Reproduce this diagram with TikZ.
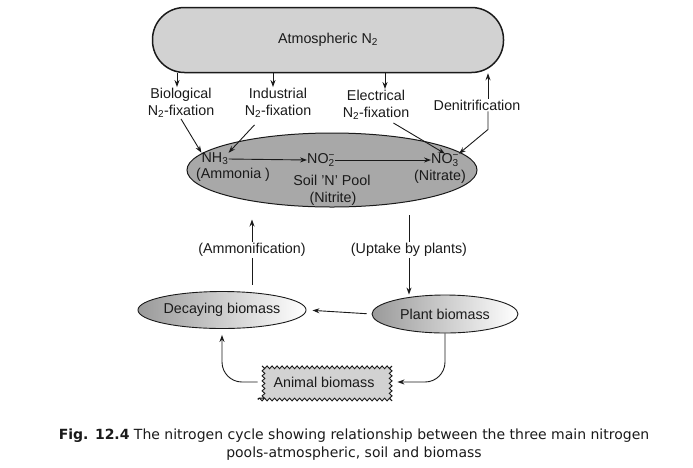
\documentclass[tikz,border=0pt]{standalone}
\usepackage{fontspec}
\setmainfont{Liberation Sans}
\newfontfamily\capfont{DejaVu Sans}
\usetikzlibrary{arrows.meta,positioning,calc,shapes.geometric,decorations.pathmorphing}
\definecolor{ink}  {HTML}{1A1A1A}
\definecolor{cloud}{HTML}{D2D2D2}
\definecolor{soil} {HTML}{A8A8A8}
\definecolor{shade}{HTML}{9A9A9A}

\tikzset{
  lbl/.style={font=\fontsize{14.3}{17}\selectfont, align=center, inner sep=1pt, text=ink},
  inlbl/.style={lbl, inner sep=0pt},
  flow/.style={-{Stealth[length=7pt,width=5pt]}, line width=0.9pt, draw=ink},
  link/.style={line width=0.9pt, draw=ink},
  bioblob/.style={ellipse, draw=ink, line width=0.9pt, left color=shade, right color=white, inner sep=0pt, lbl},
  animalbox/.style={draw=ink, line width=0.9pt, fill=cloud, minimum width=132pt, minimum height=35pt,
                    decorate, decoration={snake, amplitude=1.4pt, segment length=5pt}, lbl},
}

\begin{document}
\begin{tikzpicture}[x=1pt,y=-1pt]
  \useasboundingbox (0,0) rectangle (693,467);
  % atmospheric pool
  \node[draw=ink, line width=1.5pt, fill=cloud, rounded corners=32pt,
        minimum width=351pt, minimum height=65pt, lbl] (atmos) at (328,40) {Atmospheric N\textsubscript{2}};
  % fixation routes
  \node[lbl] (bio)   at (181,103) {Biological\\N\textsubscript{2}-fixation};
  \node[lbl] (ind)   at (278,103) {Industrial\\N\textsubscript{2}-fixation};
  \node[lbl] (elec)  at (376,105) {Electrical\\N\textsubscript{2}-fixation};
  \node[lbl] (denit) at (477,105) {Denitrification};
  \coordinate (bioin)   at ([xshift=-4pt]bio.north);
  \coordinate (indin)   at ([xshift=-5pt]ind.north);
  \coordinate (elecin)  at ([xshift=9pt]elec.north);
  \coordinate (denitup) at ([xshift=11pt]denit.north);
  \coordinate (denitdn) at ([xshift=11pt]denit.south);
  % soil pool
  \node[ellipse, draw=ink, line width=1pt, fill=soil, minimum width=290pt, minimum height=74pt,
        inner sep=0pt] (soil) at (332,170) {};
  \node[inlbl] (nh3)     at (215,159) {NH\textsubscript{3}};
  \node[inlbl] (ammonia) at (233,175) {(Ammonia )};
  \node[inlbl] (no2)     at (321,160) {NO\rlap{\textsuperscript{−}}\textsubscript{2}};
  \node[inlbl] (npool)   at (332,180) {Soil 'N' Pool};
  \node[inlbl] (nitrite) at (333,199) {(Nitrite)};
  \node[inlbl] (no3)     at (445,160) {NO\rlap{\textsuperscript{−}}\textsubscript{3}};
  \node[inlbl] (nitrate) at (440,177) {(Nitrate)};
  % biomass pools
  \node[lbl] (ammon)  at (252,250) {(Ammonification)};
  \node[lbl] (uptake) at (409,250) {(Uptake by plants)};
  \node[bioblob, minimum width=159pt, minimum height=37pt] (decay) at (222,310) {Decaying biomass};
  \node[bioblob, minimum width=146pt, minimum height=38pt] (plant) at (445,314) {Plant biomass};
  \node[animalbox] (animal) at (324,382) {Animal biomass};

  % connectors
  \draw[flow] (atmos.south -| bioin) -- (bioin);
  \draw[flow] (atmos.south -| indin) -- (indin);
  \draw[flow] (atmos.south -| elecin) -- (elecin);
  \draw[flow] (denitup) -- (atmos.south -| denitup);
  \draw[flow] (bio.south) -- (nh3.north west);
  \draw[flow, shorten <=8pt] ([xshift=-18pt]ind.south) -- (nh3.north east);
  \draw[flow, shorten <=4pt] ([xshift=14pt]elec.south) -- (no3.north);
  \draw[flow] (denitdn) -- ++(0,18) -- (no3.north east);
  \draw[flow] (nh3.east) -- (no2.west);
  \draw[flow] (no2.east) -- (no3.west);
  \draw[flow, shorten >=12pt] (ammon.north) -- (ammon.north |- soil.south);
  \draw[link, shorten >=6pt] (ammon.south) -- (ammon.south |- decay.north);
  \draw[link, shorten >=7pt] (uptake.north) -- (uptake.north |- soil.south);
  \draw[flow] (uptake.south) -- (uptake.south |- plant.north);
  \draw[flow, shorten <=5pt, shorten >=6pt] (plant.west) -- (decay.east);
  \draw[flow, rounded corners=20pt, shorten >=7pt] (plant.south) |- (animal.east);
  \draw[flow, rounded corners=20pt, shorten >=6pt] (animal.west) -| (decay.south);

  % caption
  \node[font=\capfont\fontsize{14}{18}\selectfont, align=center, text=ink] (caption) at (354,445)
    {\textbf{Fig. 12.4} The nitrogen cycle showing relationship between the three main nitrogen\\
     pools-atmospheric, soil and biomass};
\end{tikzpicture}
\end{document}
